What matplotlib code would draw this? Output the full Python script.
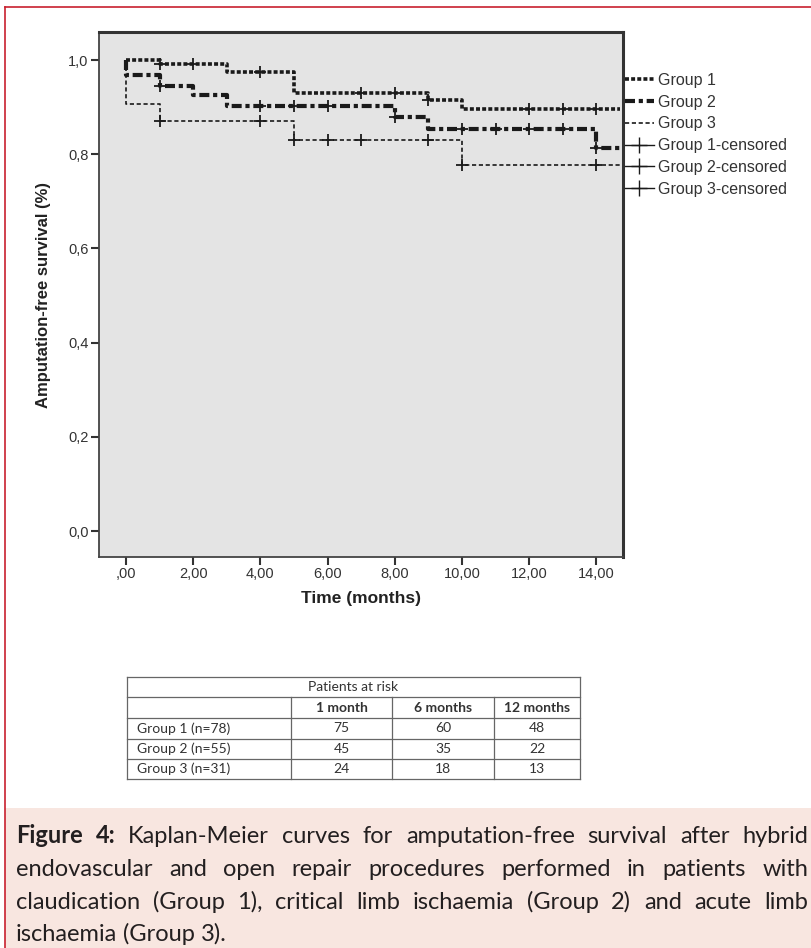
import numpy as np
import matplotlib
matplotlib.use('Agg')
import matplotlib.pyplot as plt
from matplotlib.lines import Line2D
from matplotlib.patches import Rectangle

# ---------------- data ----------------
g1_t = [0, 1, 3, 5, 9, 10, 14.7]
g1_s = [1.0, 0.991, 0.975, 0.931, 0.915, 0.896, 0.896]
g1_cens = [1, 2, 4, 7, 8, 9, 12, 13, 14]

g2_t = [0, 0, 1, 2, 3, 8, 9, 14, 14.7]
g2_s = [1.0, 0.968, 0.945, 0.926, 0.902, 0.879, 0.854, 0.813, 0.813]
g2_cens = [1, 4, 5, 6, 8, 10, 11, 12, 13, 14]

g3_t = [0, 0, 1, 5, 10, 14.7]
g3_s = [1.0, 0.907, 0.871, 0.830, 0.777, 0.777]
g3_cens = [1, 4, 5, 6, 7, 9, 10, 14]

group_names = ['Group 1', 'Group 2', 'Group 3']

x_ticks = [0, 2, 4, 6, 8, 10, 12, 14]
x_ticklabels = [',00', '2,00', '4,00', '6,00', '8,00', '10,00', '12,00', '14,00']
y_ticks = [0.0, 0.2, 0.4, 0.6, 0.8, 1.0]
y_ticklabels = ['0,0', '0,2', '0,4', '0,6', '0,8', '1,0']

risk_title = 'Patients at risk'
risk_cols = ['1 month', '6 months', '12 months']
risk_rows = ['Group 1 (n=78)', 'Group 2 (n=55)', 'Group 3 (n=31)']
risk_vals = [[75, 60, 48],
             [45, 35, 22],
             [24, 18, 13]]

caption_lines = [
    'Figure 4: Kaplan-Meier curves for amputation-free survival after hybrid',
    'endovascular and open repair procedures performed in patients with',
    'claudication (Group 1), critical limb ischaemia (Group 2) and acute limb',
    'ischaemia (Group 3).',
]

# ---------------- figure ----------------
W, H = 812, 948
fig = plt.figure(figsize=(W / 100, H / 100), dpi=100)
fig.patch.set_facecolor('white')

plt.rcParams['font.family'] = ['Liberation Sans', 'DejaVu Sans']

ax = fig.add_axes([99 / W, 1 - 557 / H, (623 - 99) / W, (557 - 32) / H])
ax.set_facecolor('#e4e4e4')
ax.set_xlim(-0.80, 14.79)
ax.set_ylim(-0.055, 1.0595)

styles = [
    dict(color='#1a1a1a', lw=2.6, ls=(0, (1.1, 0.6))),
    dict(color='#1a1a1a', lw=3.0, ls=(0, (2.4, 0.9, 1.0, 0.9))),
    dict(color='#1a1a1a', lw=1.2, ls=(0, (2.5, 1.6))),
]

curves = [(g1_t, g1_s, g1_cens), (g2_t, g2_s, g2_cens), (g3_t, g3_s, g3_cens)]
for (t, s, c), st in zip(curves, styles):
    ax.step(t, s, where='post', color=st['color'], lw=st['lw'], ls=st['ls'])
    t_arr = np.array(t)
    s_arr = np.array(s)
    idx = np.searchsorted(t_arr, c, side='right') - 1
    ax.plot(c, s_arr[idx], ls='none', marker='+', color='#1a1a1a',
            markersize=8, mew=1.3)

ax.set_xticks(x_ticks)
ax.set_xticklabels(x_ticklabels)
ax.set_yticks(y_ticks)
ax.set_yticklabels(y_ticklabels)
ax.tick_params(direction='out', length=6, width=1.5, color='#333333',
               labelsize=10.5, labelcolor='#333333', pad=1.5)

for side in ['left', 'bottom']:
    ax.spines[side].set_linewidth(1.3)
    ax.spines[side].set_color('#444444')
for side in ['top', 'right']:
    ax.spines[side].set_linewidth(2.2)
    ax.spines[side].set_color('#333333')

ax.set_xlabel('Time (months)', fontsize=12.5, fontweight='bold', color='#222222', labelpad=7)
ax.set_ylabel('Amputation-free survival (%)', fontsize=12, fontweight='bold', color='#222222', labelpad=12)

handles = [Line2D([], [], color=st['color'], lw=st['lw'], ls=st['ls']) for st in styles]
for i in range(3):
    handles.append(Line2D([], [], color='#1a1a1a', lw=1.0, marker='+', markersize=12, mew=1.0))
labels = group_names + [g + '-censored' for g in group_names]
leg = ax.legend(handles, labels, loc='upper left', bbox_to_anchor=(625 / W, 1 - 73 / H),
                bbox_transform=fig.transFigure, frameon=False, fontsize=11.5,
                handlelength=1.8, handletextpad=0.25, labelspacing=0.42, borderpad=0,
                borderaxespad=0)
for txt in leg.get_texts():
    txt.set_color('#333333')

# ---------------- overlay in pixel coordinates ----------------
ov = fig.add_axes([0, 0, 1, 1])
ov.set_xlim(0, W)
ov.set_ylim(H, 0)
ov.axis('off')

red = '#c8202f'
ov.add_patch(Rectangle((5, 808), W - 5, H - 808, facecolor='#f8e6e0', edgecolor='none'))
ov.plot([5, W], [7, 7], color=red, lw=1.2)
ov.plot([5, 5], [7, H], color=red, lw=1.2)

# patients at risk table
tx = [127, 291, 392, 494, 580]
ty = [677, 697, 718, 739, 759, 779]
tcol = '#666666'
tfont = dict(family=['Lato', 'DejaVu Sans'], fontsize=10, color='#333333')
for y in ty:
    ov.plot([tx[0], tx[-1]], [y, y], color=tcol, lw=0.9)
ov.plot([tx[0], tx[0]], [ty[0], ty[-1]], color=tcol, lw=0.9)
ov.plot([tx[-1], tx[-1]], [ty[0], ty[-1]], color=tcol, lw=0.9)
for x in tx[1:-1]:
    ov.plot([x, x], [ty[1], ty[-1]], color=tcol, lw=0.9)
ov.text((tx[0] + tx[-1]) / 2, (ty[0] + ty[1]) / 2, risk_title, ha='center', va='center', **tfont)
for j, col in enumerate(risk_cols):
    ov.text((tx[j + 1] + tx[j + 2]) / 2, (ty[1] + ty[2]) / 2, col, ha='center', va='center',
            fontweight='bold', **tfont)
for i, row in enumerate(risk_rows):
    yc = (ty[i + 2] + ty[i + 3]) / 2
    ov.text(tx[0] + 10, yc, row, ha='left', va='center', **tfont)
    for j, v in enumerate(risk_vals[i]):
        ov.text((tx[j + 1] + tx[j + 2]) / 2, yc, str(v), ha='center', va='center', **tfont)

# caption, justified like the journal layout
cap_font = dict(family=['Lato', 'DejaVu Sans'], fontsize=17, color='#231f20')
renderer = fig.canvas.get_renderer()
cap_x0, cap_x1 = 16, 808
baselines = [843, 876, 909, 941]


def word_width(word, bold):
    t = ov.text(0, 0, word, fontweight='bold' if bold else 'normal', **cap_font)
    w = t.get_window_extent(renderer).width
    t.remove()
    return w


for k, line in enumerate(caption_lines):
    words = line.split(' ')
    bold = [k == 0 and i < 2 for i in range(len(words))]
    widths = [word_width(w, b) for w, b in zip(words, bold)]
    if k < len(caption_lines) - 1:
        gap = (cap_x1 - cap_x0 - sum(widths)) / (len(words) - 1)
    else:
        gap = word_width('a b', False) - word_width('ab', False)
    x = cap_x0
    for w, b, wd in zip(words, bold, widths):
        ov.text(x, baselines[k], w, ha='left', va='baseline',
                fontweight='bold' if b else 'normal', **cap_font)
        x += wd + gap

fig.savefig('out.png', dpi=100)
